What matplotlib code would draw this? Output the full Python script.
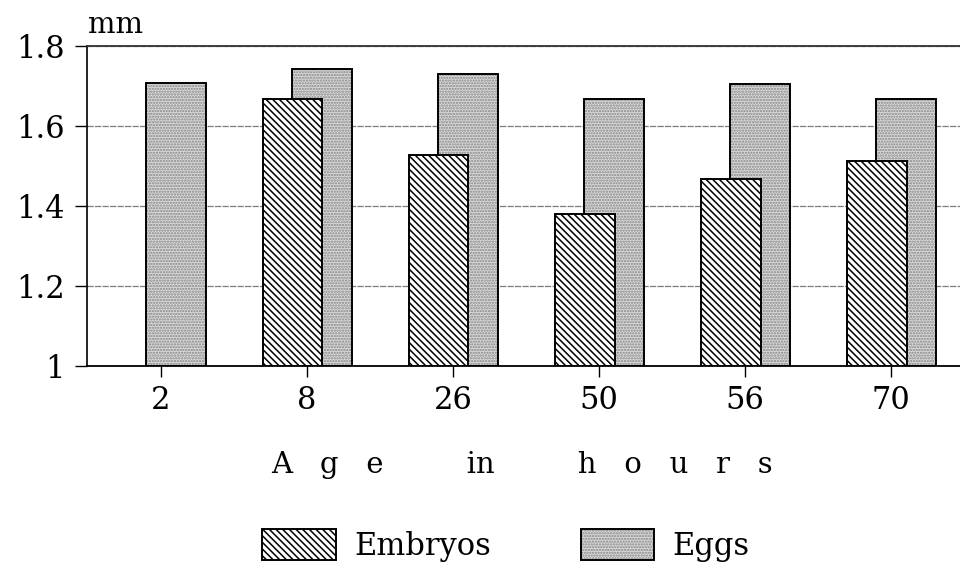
import numpy as np
import matplotlib.pyplot as plt
from matplotlib.legend_handler import HandlerTuple

plt.rcParams["font.family"] = ["DejaVu Serif"]
plt.rcParams["hatch.linewidth"] = 1.1

ages = ["2", "8", "26", "50", "56", "70"]
embryos = [np.nan, 1.667, 1.527, 1.380, 1.467, 1.512]
eggs = [1.707, 1.742, 1.730, 1.667, 1.705, 1.667]

x = np.arange(len(ages))
width = 0.41
offset = 0.1

fig = plt.figure(figsize=(9.6, 5.7), dpi=100)
ax = fig.add_axes([0.0906, 0.358, 0.9094, 0.561])

# eggs: light stipple, drawn behind the embryos
egg_fill = ax.bar(x + offset, np.array(eggs) - 1, width, bottom=1,
                  color="#d9d9d9", hatch="......", edgecolor="#858585",
                  linewidth=0, zorder=2)
egg_edge = ax.bar(x + offset, np.array(eggs) - 1, width, bottom=1,
                  fill=False, edgecolor="black", linewidth=1.4, zorder=2)
emb = ax.bar(x - offset, np.array(embryos) - 1, width, bottom=1,
             color="white", hatch="\\\\\\\\\\", edgecolor="black",
             linewidth=1.4, zorder=3)

ax.set_xlim(-0.507, 5.47)
ax.set_ylim(1.0, 1.8)
ax.set_yticks([1.0, 1.2, 1.4, 1.6, 1.8])
ax.set_yticklabels(["1", "1.2", "1.4", "1.6", "1.8"], fontsize=22)
ax.set_xticks(x)
ax.set_xticklabels(ages, fontsize=22)
ax.tick_params(axis="y", direction="out", length=9, width=1, pad=7)
ax.tick_params(axis="x", direction="out", length=8, width=1, pad=6)

ax.grid(axis="y", color="#7a7a7a", linewidth=0.9, linestyle=(0, (5, 1)), zorder=0)
ax.set_axisbelow(True)
ax.spines["right"].set_visible(False)
ax.spines["top"].set_color("#333333")
ax.spines["top"].set_linewidth(1.3)
ax.spines["left"].set_linewidth(1.2)
ax.spines["bottom"].set_linewidth(1.3)

ax.text(0.001, 1.04, "mm", transform=ax.transAxes, fontsize=21,
        ha="left", va="baseline")
fig.text(0.544, 0.185, "A   g   e         in         h   o   u   r   s",
         fontsize=21, ha="center", va="center")

fig.legend([emb, (egg_fill, egg_edge)], ["Embryos", "Eggs"],
           handler_map={tuple: HandlerTuple(ndivide=1, pad=0)},
           loc="center", bbox_to_anchor=(0.527, 0.043), ncol=2,
           frameon=False, fontsize=22, handlelength=2.4, handleheight=1.2,
           columnspacing=2.95, handletextpad=0.6)

fig.savefig("out.png", dpi=100)
